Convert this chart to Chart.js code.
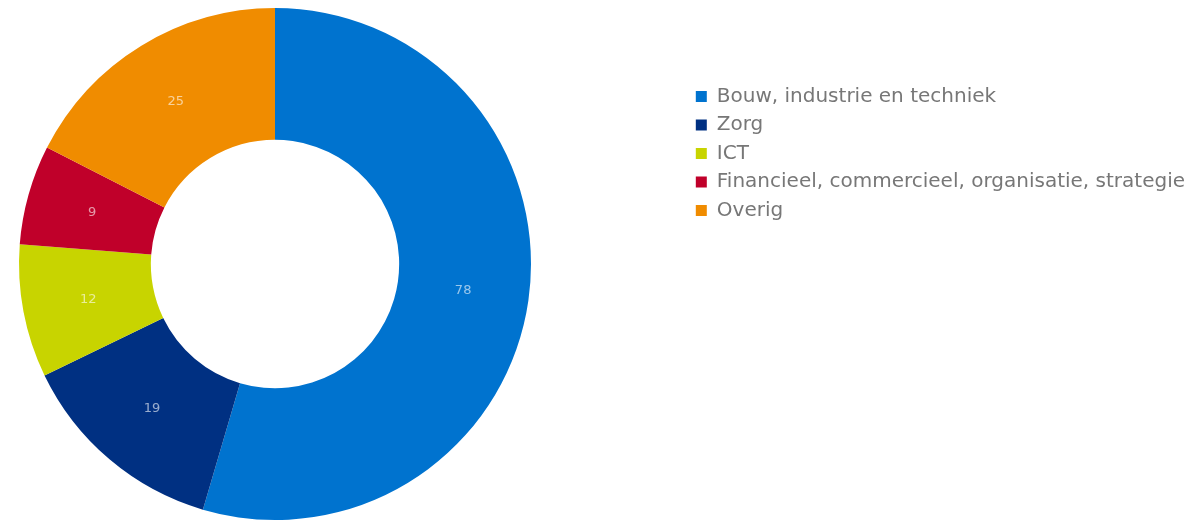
<!DOCTYPE html>
<html><head><meta charset="utf-8">
<script src="https://cdn.jsdelivr.net/npm/chart.js@4/dist/chart.umd.min.js"></script>
<style>html,body{margin:0;padding:0;background:#fff}#wrap{width:1197px;height:522px;position:relative}</style>
</head><body><div id="wrap"><canvas id="c"></canvas></div>
<script>
const categories = ["Bouw, industrie en techniek", "Zorg", "ICT", "Financieel, commercieel, organisatie, strategie", "Overig"];
const values = [78, 19, 12, 9, 25];
const colors = ["#0073cf", "#003082", "#c8d400", "#c0002a", "#f08c00"];

const shiftArea = {
  id: 'shiftArea',
  afterLayout(chart) {
    const a = chart.chartArea;
    a.left = 17; a.right = 533; a.top = 8; a.bottom = 520;
    a.width = a.right - a.left; a.height = a.bottom - a.top;
  }
};
const valueLabels = {
  id: 'valueLabels',
  afterDatasetsDraw(chart) {
    const ctx = chart.ctx;
    const meta = chart.getDatasetMeta(0);
    ctx.save();
    ctx.font = '13px "DejaVu Sans", sans-serif';
    ctx.fillStyle = 'rgba(255,255,255,0.6)';
    ctx.textAlign = 'center'; ctx.textBaseline = 'middle';
    meta.data.forEach((arc, i) => {
      const p = arc.tooltipPosition();
      ctx.fillText(String(chart.data.datasets[0].data[i]), p.x, p.y);
    });
    ctx.restore();
  }
};

new Chart(document.getElementById('c'), {
  type: 'doughnut',
  data: { labels: categories, datasets: [{ data: values, backgroundColor: colors, borderWidth: 0 }] },
  options: {
    responsive: true, maintainAspectRatio: false, animation: false,
    cutout: '48.5%',
    layout: { padding: { top: 78, right: 2, left: 0, bottom: 0 } },
    plugins: {
      tooltip: { enabled: false },
      legend: {
        position: 'right', align: 'start',
        labels: { boxWidth: 11, boxHeight: 11, padding: 8.5, color: '#777',
          font: { size: 20, family: '"DejaVu Sans", sans-serif' } }
      }
    }
  },
  plugins: [shiftArea, valueLabels]
});
</script></body></html>
